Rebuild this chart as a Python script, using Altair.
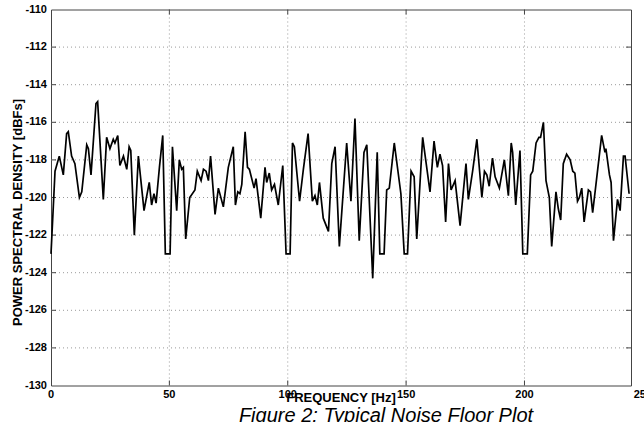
import altair as alt
import pandas as pd

freq = [0.0, 1.7, 3.5, 5.2, 6.6, 7.3, 8.7, 10.1, 12.0, 13.0, 15.1, 15.8, 16.9, 19.0, 19.7,
        22.1, 23.5, 24.9, 26.3, 27.0, 28.2, 29.1, 30.6, 32.0, 33.0, 33.7, 35.2, 36.9, 39.3,
        41.5, 42.5, 43.5, 44.4, 45.8, 47.2, 48.3, 50.3, 51.3, 53.1, 54.2, 55.2, 55.9, 56.9,
        58.6, 60.8, 61.8, 63.4, 64.4, 65.5, 66.5, 67.4, 69.3, 70.7, 72.8, 74.9, 77.0, 77.9,
        78.9, 79.8, 80.6, 82.0, 83.0, 83.8, 85.8, 86.6, 88.6, 90.4, 91.1, 92.2, 93.2, 94.4,
        96.0, 97.9, 99.3, 101.0, 102.0, 102.8, 105.0, 106.6, 108.6, 110.4, 111.5, 112.5,
        113.4, 115.0, 117.2, 118.6, 120.0, 121.8, 124.9, 126.7, 128.4, 130.2, 132.2, 133.4,
        135.9, 137.8, 138.9, 140.7, 141.8, 142.9, 145.0, 147.8, 149.2, 150.6, 152.1, 153.4,
        154.5, 157.0, 160.1, 161.8, 163.2, 164.3, 165.4, 166.7, 167.9, 169.0, 170.7, 172.8,
        175.3, 176.3, 178.1, 179.9, 182.0, 183.1, 184.1, 185.1, 186.5, 187.6, 189.4, 191.5,
        193.2, 194.4, 195.0, 196.3, 198.1, 199.3, 201.2, 202.6, 203.5, 204.9, 206.1, 206.8,
        208.0, 209.1, 210.5, 211.5, 213.3, 214.3, 215.3, 216.4, 217.8, 219.3, 220.4, 221.3,
        222.4, 223.2, 224.2, 225.2, 227.0, 227.9, 228.8, 230.2, 232.6, 234.0, 234.4, 235.9,
        236.6, 237.6, 239.3, 240.4, 241.8, 242.5, 244.2]

psd = [-123.0, -118.6, -117.8, -118.8, -116.6, -116.5, -117.8, -118.2, -120.0, -119.7, -117.2,
       -117.4, -118.8, -115.0, -114.9, -120.1, -116.8, -117.4, -116.9, -117.1, -116.7, -118.3,
       -117.8, -118.5, -117.3, -117.5, -122.0, -117.8, -120.7, -119.2, -120.4, -119.8, -120.3,
       -118.4, -116.7, -123.0, -123.0, -117.3, -120.7, -118.0, -118.5, -118.4, -122.2, -120.0,
       -119.6, -118.6, -119.1, -118.5, -118.6, -119.1, -117.8, -120.9, -119.5, -120.5, -118.4,
       -117.3, -120.4, -119.7, -119.8, -119.3, -116.5, -118.4, -118.5, -119.5, -119.0, -121.1,
       -118.4, -119.2, -118.7, -119.6, -119.3, -120.4, -118.3, -123.0, -123.0, -117.1, -117.3,
       -120.2, -118.5, -116.6, -120.2, -119.9, -120.4, -119.2, -121.1, -121.8, -118.2, -117.3,
       -122.6, -117.1, -120.2, -115.8, -122.3, -117.6, -117.2, -124.3, -117.6, -123.0, -123.0,
       -119.6, -119.5, -117.1, -119.8, -123.0, -123.0, -118.6, -118.9, -122.2, -116.8, -119.7,
       -117.0, -118.4, -117.7, -118.3, -121.3, -118.2, -119.6, -119.1, -121.5, -118.2, -120.1,
       -118.6, -116.9, -120.0, -118.6, -118.8, -119.4, -117.9, -118.9, -119.5, -118.0, -119.9,
       -117.1, -117.6, -120.4, -117.5, -123.0, -123.0, -118.8, -118.6, -117.1, -116.8, -116.8,
       -116.0, -119.1, -120.0, -122.6, -119.7, -120.6, -121.2, -118.2, -117.7, -118.0, -118.6,
       -118.7, -120.2, -120.0, -119.5, -121.3, -119.6, -119.7, -120.8, -119.3, -116.7, -117.6,
       -117.4, -118.8, -119.2, -122.3, -120.1, -120.7, -117.8, -117.8, -119.8]

x_ticks = [0, 50, 100, 150, 200, 250]
x_grid = [50, 100, 150, 200]
y_ticks = [-130, -128, -126, -124, -122, -120, -118, -116, -114, -112, -110]
y_grid = [-128, -126, -124, -122, -120, -118, -116, -114, -112]

W, H = 580, 376
FONT = "Liberation Sans"

xs = alt.Scale(domain=[0, 245], nice=False, zero=False)
ys = alt.Scale(domain=[-130, -110], nice=False, zero=False)

df = pd.DataFrame({"freq": freq, "psd": psd})
dxt = pd.DataFrame({"v": x_ticks, "label": [str(v) for v in x_ticks]})
dxg = pd.DataFrame({"v": x_grid})
dyt = pd.DataFrame({"v": y_ticks, "label": [str(v) for v in y_ticks]})
dyg = pd.DataFrame({"v": y_grid})
one = pd.DataFrame({"a": [0]})

X = lambda f: alt.X(f, scale=xs, axis=None, title=None)
Y = lambda f: alt.Y(f, scale=ys, axis=None, title=None)

grid_style = dict(color="#9a9a9a", strokeWidth=1, strokeDash=[1, 3])
grid_h = alt.Chart(dyg).mark_rule(**grid_style).encode(
    y=Y("v:Q"), x=alt.value(0), x2=alt.value(W))
grid_v = alt.Chart(dxg).mark_rule(**grid_style).encode(
    x=X("v:Q"), y=alt.value(0), y2=alt.value(H))

tick_style = dict(color="#444444", strokeWidth=1)
tl = alt.Chart(dyg).mark_rule(**tick_style).encode(y=Y("v:Q"), x=alt.value(0), x2=alt.value(5))
tr = alt.Chart(dyg).mark_rule(**tick_style).encode(y=Y("v:Q"), x=alt.value(W - 5), x2=alt.value(W))
tb = alt.Chart(dxg).mark_rule(**tick_style).encode(x=X("v:Q"), y=alt.value(H - 5), y2=alt.value(H))
tt = alt.Chart(dxg).mark_rule(**tick_style).encode(x=X("v:Q"), y=alt.value(0), y2=alt.value(5))

line = alt.Chart(df).mark_line(color="black", strokeWidth=1.7).encode(
    x=X("freq:Q"), y=Y("psd:Q"))

ylab = alt.Chart(dyt).mark_text(align="right", baseline="middle", font=FONT, fontSize=11,
                                fontWeight="bold", color="black").encode(
    y=Y("v:Q"), x=alt.value(-4), text="label:N")
xlab = alt.Chart(dxt).mark_text(align="center", baseline="top", font=FONT, fontSize=11,
                                fontWeight="bold", color="black").encode(
    x=X("v:Q"), y=alt.value(H + 3), text="label:N")

xtitle = alt.Chart(one).mark_text(align="center", baseline="alphabetic", font=FONT, fontSize=13,
                                  fontWeight="bold", color="black").encode(
    x=alt.value(290), y=alt.value(H + 16), text=alt.value("FREQUENCY [Hz]"))
ytitle = alt.Chart(one).mark_text(align="center", baseline="middle", font=FONT, fontSize=13,
                                  fontWeight="bold", color="black", angle=270).encode(
    x=alt.value(-33), y=alt.value(203), text=alt.value("POWER SPECTRAL DENSITY [dBFs]"))
caption = alt.Chart(one).mark_text(align="center", baseline="alphabetic", font=FONT, fontSize=20,
                                   fontStyle="italic", color="black").encode(
    x=alt.value(335), y=alt.value(H + 36), text=alt.value("Figure 2: Typical Noise Floor Plot"))

chart = alt.layer(grid_h, grid_v, tl, tr, tb, tt, line, ylab, xlab, xtitle, ytitle, caption).properties(
    width=W, height=H,
    padding={"left": 51, "top": 9.5, "right": 13, "bottom": 36.5},
    autosize=alt.AutoSizeParams(type="none"),
    background="white",
).configure_view(stroke="#444444", strokeWidth=1)

chart.save("out.html", embed_options={"renderer": "svg", "actions": False})
